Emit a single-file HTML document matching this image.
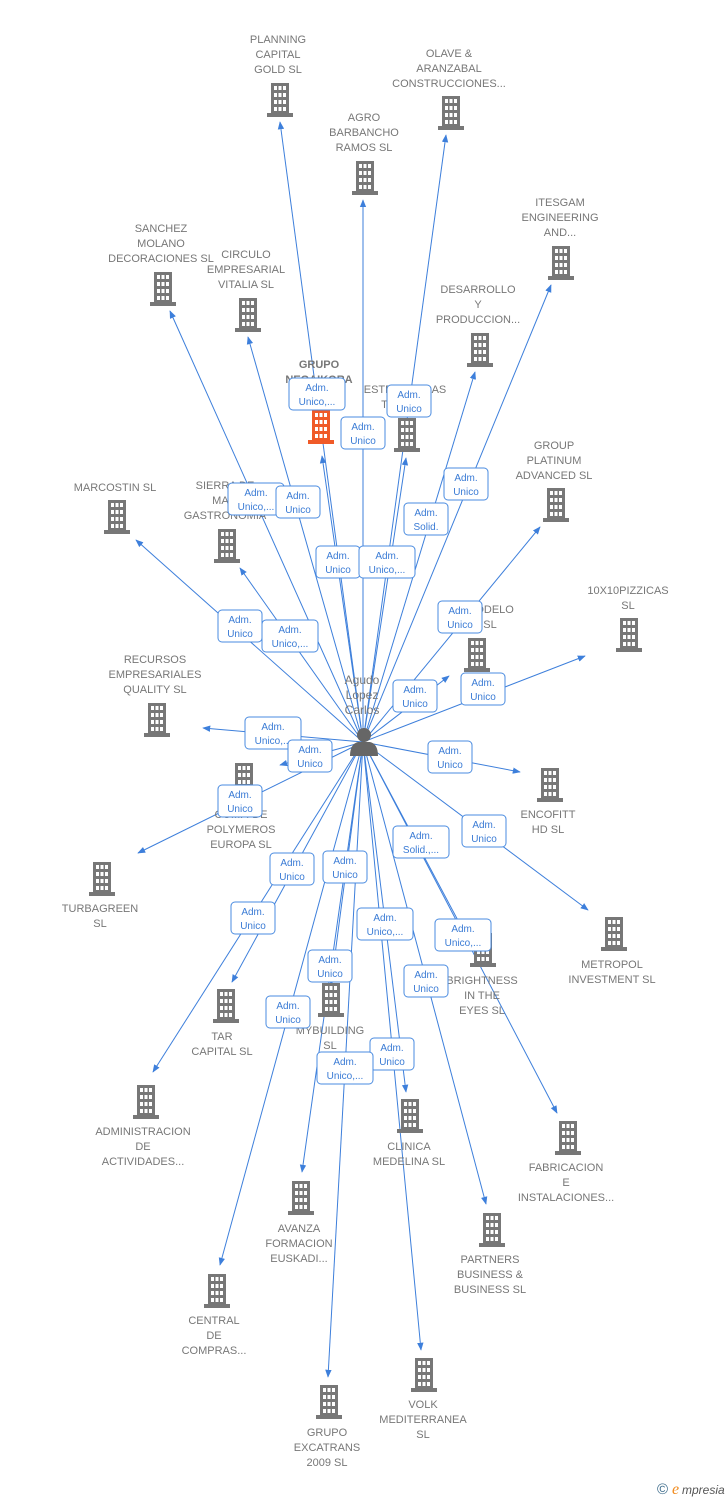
<!DOCTYPE html>
<html><head><meta charset="utf-8"><style>
html,body{margin:0;padding:0;background:#fff;}
svg{display:block;}
.t{font-family:"Liberation Sans",sans-serif;font-size:11px;fill:#777;text-anchor:middle;}
.b{font-family:"Liberation Sans",sans-serif;font-size:10px;fill:#3a7bd5;text-anchor:middle;}
.bx{fill:#fff;stroke:#4a8be0;stroke-width:1;}
.l{stroke:#3d7fdb;stroke-width:1;fill:none;}
</style></head><body>
<svg width="728" height="1500" viewBox="0 0 728 1500" xmlns="http://www.w3.org/2000/svg">
<defs>
<marker id="a" viewBox="0 0 10 10" refX="9" refY="5" markerWidth="8" markerHeight="8" orient="auto"><path d="M0,1 L10,5 L0,9 Z" fill="#3d7fdb"/></marker>
<g id="bd">
<rect x="4" y="0" width="18" height="31" fill="#777"/>
<rect x="0" y="30" width="26" height="4" fill="#777"/>
<g fill="#fff">
<rect x="7" y="3" width="3" height="4"/><rect x="11.5" y="3" width="3" height="4"/><rect x="16" y="3" width="3" height="4"/>
<rect x="7" y="10" width="3" height="4"/><rect x="11.5" y="10" width="3" height="4"/><rect x="16" y="10" width="3" height="4"/>
<rect x="7" y="17" width="3" height="4"/><rect x="11.5" y="17" width="3" height="4"/><rect x="16" y="17" width="3" height="4"/>
<rect x="7" y="24" width="3" height="4"/><rect x="11.5" y="24" width="3" height="4"/><rect x="16" y="24" width="3" height="4"/>
</g></g>
<g id="bo">
<rect x="4" y="0" width="18" height="31" fill="#f05a28"/>
<rect x="0" y="30" width="26" height="4" fill="#f05a28"/>
<g fill="#fff">
<rect x="7" y="3" width="3" height="4"/><rect x="11.5" y="3" width="3" height="4"/><rect x="16" y="3" width="3" height="4"/>
<rect x="7" y="10" width="3" height="4"/><rect x="11.5" y="10" width="3" height="4"/><rect x="16" y="10" width="3" height="4"/>
<rect x="7" y="17" width="3" height="4"/><rect x="11.5" y="17" width="3" height="4"/><rect x="16" y="17" width="3" height="4"/>
<rect x="7" y="24" width="3" height="4"/><rect x="11.5" y="24" width="3" height="4"/><rect x="16" y="24" width="3" height="4"/>
</g></g>
</defs>

<g class="l" marker-end="url(#a)">
<line x1="363" y1="742" x2="280" y2="122"/>
<line x1="363" y1="742" x2="446" y2="135"/>
<line x1="363" y1="742" x2="363" y2="200"/>
<line x1="363" y1="742" x2="551" y2="285"/>
<line x1="363" y1="742" x2="170" y2="311"/>
<line x1="363" y1="742" x2="248" y2="337"/>
<line x1="363" y1="742" x2="475" y2="372"/>
<line x1="363" y1="742" x2="322" y2="456"/>
<line x1="363" y1="742" x2="406" y2="458"/>
<line x1="363" y1="742" x2="540" y2="527"/>
<line x1="363" y1="742" x2="136" y2="540"/>
<line x1="363" y1="742" x2="240" y2="568"/>
<line x1="363" y1="742" x2="585" y2="656"/>
<line x1="363" y1="742" x2="449" y2="676"/>
<line x1="363" y1="742" x2="203" y2="728"/>
<line x1="363" y1="742" x2="520" y2="772"/>
<line x1="363" y1="742" x2="280" y2="765"/>
<line x1="363" y1="742" x2="138" y2="853"/>
<line x1="363" y1="742" x2="588" y2="910"/>
<line x1="363" y1="742" x2="470" y2="943"/>
<line x1="363" y1="742" x2="232" y2="982"/>
<line x1="363" y1="742" x2="331" y2="985"/>
<line x1="363" y1="742" x2="153" y2="1072"/>
<line x1="363" y1="742" x2="406" y2="1092"/>
<line x1="363" y1="742" x2="557" y2="1113"/>
<line x1="363" y1="742" x2="302" y2="1172"/>
<line x1="363" y1="742" x2="486" y2="1204"/>
<line x1="363" y1="742" x2="220" y2="1265"/>
<line x1="363" y1="742" x2="421" y2="1350"/>
<line x1="363" y1="742" x2="328" y2="1377"/>
</g>

<!-- buildings -->
<use href="#bd" x="267" y="83"/>
<use href="#bd" x="438" y="96"/>
<use href="#bd" x="352" y="161"/>
<use href="#bd" x="548" y="246"/>
<use href="#bd" x="150" y="272"/>
<use href="#bd" x="235" y="298"/>
<use href="#bd" x="467" y="333"/>
<use href="#bo" x="308" y="410"/>
<use href="#bd" x="394" y="418"/>
<use href="#bd" x="543" y="488"/>
<use href="#bd" x="104" y="500"/>
<use href="#bd" x="214" y="529"/>
<use href="#bd" x="616" y="618"/>
<use href="#bd" x="464" y="638"/>
<use href="#bd" x="144" y="703"/>
<use href="#bd" x="537" y="768"/>
<use href="#bd" x="231" y="763"/>
<use href="#bd" x="89" y="862"/>
<use href="#bd" x="601" y="917"/>
<use href="#bd" x="470" y="933"/>
<use href="#bd" x="213" y="989"/>
<use href="#bd" x="318" y="983"/>
<use href="#bd" x="133" y="1085"/>
<use href="#bd" x="397" y="1099"/>
<use href="#bd" x="555" y="1121"/>
<use href="#bd" x="288" y="1181"/>
<use href="#bd" x="479" y="1213"/>
<use href="#bd" x="204" y="1274"/>
<use href="#bd" x="411" y="1358"/>
<use href="#bd" x="316" y="1385"/>

<!-- node labels -->
<g class="t">
<text x="278" y="43">PLANNING</text><text x="278" y="58">CAPITAL</text><text x="278" y="73">GOLD  SL</text>
<text x="449" y="57">OLAVE &amp;</text><text x="449" y="72">ARANZABAL</text><text x="449" y="87">CONSTRUCCIONES...</text>
<text x="364" y="121">AGRO</text><text x="364" y="136">BARBANCHO</text><text x="364" y="151">RAMOS  SL</text>
<text x="560" y="206">ITESGAM</text><text x="560" y="221">ENGINEERING</text><text x="560" y="236">AND...</text>
<text x="161" y="232">SANCHEZ</text><text x="161" y="247">MOLANO</text><text x="161" y="262">DECORACIONES SL</text>
<text x="246" y="258">CIRCULO</text><text x="246" y="273">EMPRESARIAL</text><text x="246" y="288">VITALIA  SL</text>
<text x="478" y="293">DESARROLLO</text><text x="478" y="308">Y</text><text x="478" y="323">PRODUCCION...</text>
<text x="319" y="368" font-weight="bold">GRUPO</text><text x="319" y="383" font-weight="bold">NEGAIKORA</text><text x="319" y="398" font-weight="bold">IBERIA</text>
<text x="405" y="393">ESTRUCTURAS</text><text x="405" y="408">TRA...  SL</text>
<text x="554" y="449">GROUP</text><text x="554" y="464">PLATINUM</text><text x="554" y="479">ADVANCED  SL</text>
<text x="115" y="491">MARCOSTIN SL</text>
<text x="225" y="489">SIERRA DE</text><text x="225" y="504">MA...</text><text x="225" y="519">GASTRONOMIA</text>
<text x="628" y="594">10X10PIZZICAS</text><text x="628" y="609">SL</text>
<text x="490" y="613">MODELO</text><text x="490" y="628">SL</text>
<text x="155" y="663">RECURSOS</text><text x="155" y="678">EMPRESARIALES</text><text x="155" y="693">QUALITY  SL</text>
<text x="548" y="818">ENCOFITT</text><text x="548" y="833">HD  SL</text>
<text x="241" y="818">COMP. DE</text><text x="241" y="833">POLYMEROS</text><text x="241" y="848">EUROPA  SL</text>
<text x="100" y="912">TURBAGREEN</text><text x="100" y="927">SL</text>
<text x="612" y="968">METROPOL</text><text x="612" y="983">INVESTMENT SL</text>
<text x="482" y="984">BRIGHTNESS</text><text x="482" y="999">IN THE</text><text x="482" y="1014">EYES  SL</text>
<text x="222" y="1040">TAR</text><text x="222" y="1055">CAPITAL  SL</text>
<text x="330" y="1034">MYBUILDING</text><text x="330" y="1049">SL</text>
<text x="143" y="1135">ADMINISTRACION</text><text x="143" y="1150">DE</text><text x="143" y="1165">ACTIVIDADES...</text>
<text x="409" y="1150">CLINICA</text><text x="409" y="1165">MEDELINA  SL</text>
<text x="566" y="1171">FABRICACION</text><text x="566" y="1186">E</text><text x="566" y="1201">INSTALACIONES...</text>
<text x="299" y="1232">AVANZA</text><text x="299" y="1247">FORMACION</text><text x="299" y="1262">EUSKADI...</text>
<text x="490" y="1263">PARTNERS</text><text x="490" y="1278">BUSINESS &amp;</text><text x="490" y="1293">BUSINESS  SL</text>
<text x="214" y="1324">CENTRAL</text><text x="214" y="1339">DE</text><text x="214" y="1354">COMPRAS...</text>
<text x="423" y="1408">VOLK</text><text x="423" y="1423">MEDITERRANEA</text><text x="423" y="1438">SL</text>
<text x="327" y="1436">GRUPO</text><text x="327" y="1451">EXCATRANS</text><text x="327" y="1466">2009  SL</text>
</g>

<!-- person -->
<text x="362" y="684" class="t" style="font-size:12px">Agudo</text>
<text x="362" y="699" class="t" style="font-size:12px">Lopez</text>
<text x="362" y="714" class="t" style="font-size:12px">Carlos</text>
<g fill="#666">
<circle cx="364" cy="735" r="7"/>
<path d="M350,756 Q350,744 358,742 L370,742 Q378,744 378,756 Z"/>
</g>

<!-- relation boxes -->
<g>
<rect class="bx" x="289" y="378" width="56" height="32" rx="4"/><text class="b" x="317" y="391">Adm.</text><text class="b" x="317" y="405">Unico,...</text>
<rect class="bx" x="341" y="417" width="44" height="32" rx="4"/><text class="b" x="363" y="430">Adm.</text><text class="b" x="363" y="444">Unico</text>
<rect class="bx" x="387" y="385" width="44" height="32" rx="4"/><text class="b" x="409" y="398">Adm.</text><text class="b" x="409" y="412">Unico</text>
<rect class="bx" x="444" y="468" width="44" height="32" rx="4"/><text class="b" x="466" y="481">Adm.</text><text class="b" x="466" y="495">Unico</text>
<rect class="bx" x="404" y="503" width="44" height="32" rx="4"/><text class="b" x="426" y="516">Adm.</text><text class="b" x="426" y="530">Solid.</text>
<rect class="bx" x="228" y="483" width="56" height="32" rx="4"/><text class="b" x="256" y="496">Adm.</text><text class="b" x="256" y="510">Unico,...</text>
<rect class="bx" x="276" y="486" width="44" height="32" rx="4"/><text class="b" x="298" y="499">Adm.</text><text class="b" x="298" y="513">Unico</text>
<rect class="bx" x="316" y="546" width="44" height="32" rx="4"/><text class="b" x="338" y="559">Adm.</text><text class="b" x="338" y="573">Unico</text>
<rect class="bx" x="359" y="546" width="56" height="32" rx="4"/><text class="b" x="387" y="559">Adm.</text><text class="b" x="387" y="573">Unico,...</text>
<rect class="bx" x="218" y="610" width="44" height="32" rx="4"/><text class="b" x="240" y="623">Adm.</text><text class="b" x="240" y="637">Unico</text>
<rect class="bx" x="262" y="620" width="56" height="32" rx="4"/><text class="b" x="290" y="633">Adm.</text><text class="b" x="290" y="647">Unico,...</text>
<rect class="bx" x="438" y="601" width="44" height="32" rx="4"/><text class="b" x="460" y="614">Adm.</text><text class="b" x="460" y="628">Unico</text>
<rect class="bx" x="461" y="673" width="44" height="32" rx="4"/><text class="b" x="483" y="686">Adm.</text><text class="b" x="483" y="700">Unico</text>
<rect class="bx" x="393" y="680" width="44" height="32" rx="4"/><text class="b" x="415" y="693">Adm.</text><text class="b" x="415" y="707">Unico</text>
<rect class="bx" x="245" y="717" width="56" height="32" rx="4"/><text class="b" x="273" y="730">Adm.</text><text class="b" x="273" y="744">Unico,...</text>
<rect class="bx" x="288" y="740" width="44" height="32" rx="4"/><text class="b" x="310" y="753">Adm.</text><text class="b" x="310" y="767">Unico</text>
<rect class="bx" x="428" y="741" width="44" height="32" rx="4"/><text class="b" x="450" y="754">Adm.</text><text class="b" x="450" y="768">Unico</text>
<rect class="bx" x="218" y="785" width="44" height="32" rx="4"/><text class="b" x="240" y="798">Adm.</text><text class="b" x="240" y="812">Unico</text>
<rect class="bx" x="462" y="815" width="44" height="32" rx="4"/><text class="b" x="484" y="828">Adm.</text><text class="b" x="484" y="842">Unico</text>
<rect class="bx" x="393" y="826" width="56" height="32" rx="4"/><text class="b" x="421" y="839">Adm.</text><text class="b" x="421" y="853">Solid.,...</text>
<rect class="bx" x="270" y="853" width="44" height="32" rx="4"/><text class="b" x="292" y="866">Adm.</text><text class="b" x="292" y="880">Unico</text>
<rect class="bx" x="323" y="851" width="44" height="32" rx="4"/><text class="b" x="345" y="864">Adm.</text><text class="b" x="345" y="878">Unico</text>
<rect class="bx" x="231" y="902" width="44" height="32" rx="4"/><text class="b" x="253" y="915">Adm.</text><text class="b" x="253" y="929">Unico</text>
<rect class="bx" x="357" y="908" width="56" height="32" rx="4"/><text class="b" x="385" y="921">Adm.</text><text class="b" x="385" y="935">Unico,...</text>
<rect class="bx" x="435" y="919" width="56" height="32" rx="4"/><text class="b" x="463" y="932">Adm.</text><text class="b" x="463" y="946">Unico,...</text>
<rect class="bx" x="308" y="950" width="44" height="32" rx="4"/><text class="b" x="330" y="963">Adm.</text><text class="b" x="330" y="977">Unico</text>
<rect class="bx" x="404" y="965" width="44" height="32" rx="4"/><text class="b" x="426" y="978">Adm.</text><text class="b" x="426" y="992">Unico</text>
<rect class="bx" x="266" y="996" width="44" height="32" rx="4"/><text class="b" x="288" y="1009">Adm.</text><text class="b" x="288" y="1023">Unico</text>
<rect class="bx" x="370" y="1038" width="44" height="32" rx="4"/><text class="b" x="392" y="1051">Adm.</text><text class="b" x="392" y="1065">Unico</text>
<rect class="bx" x="317" y="1052" width="56" height="32" rx="4"/><text class="b" x="345" y="1065">Adm.</text><text class="b" x="345" y="1079">Unico,...</text>
</g>

<text x="657" y="1494" style="font-family:'Liberation Sans',sans-serif;font-size:15px;fill:#3a6a8a">©</text>
<text x="672" y="1494" style="font-family:'Liberation Serif',serif;font-style:italic;font-size:16px;fill:#f08a1c">e</text>
<text x="682" y="1494" style="font-family:'Liberation Sans',sans-serif;font-style:italic;font-size:12px;fill:#555">mpresia</text>
</svg>
</body></html>
